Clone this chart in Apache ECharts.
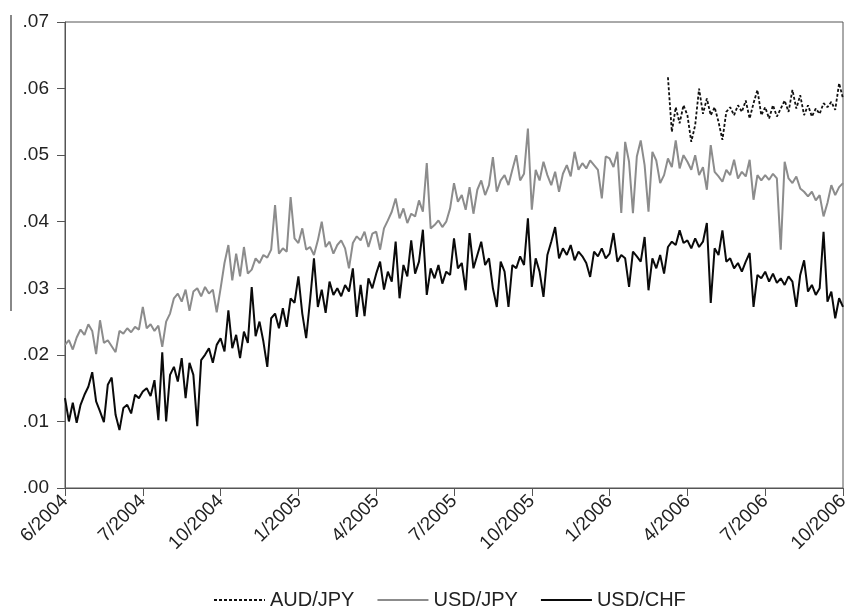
<!DOCTYPE html>
<html><head><meta charset="utf-8">
<script src="https://cdn.jsdelivr.net/npm/echarts@6/dist/echarts.min.js"></script>
<style>html,body{margin:0;padding:0;background:#fff}#c{width:846px;height:609px}</style>
</head><body><div id="c"></div>
<script>
// Tick labels, one per 20 observations
const tickLabels = ["6/2004","7/2004","10/2004","1/2005","4/2005","7/2005","10/2005","1/2006","4/2006","7/2006","10/2006"];
const obsPerTick = 20;

const usdjpy = [
0.0215,0.0222,0.0208,0.0226,0.0238,0.0230,0.0246,0.0236,0.0201,0.0252,0.0218,0.0222,0.0213,0.0204,0.0236,0.0232,0.0240,0.0234,0.0242,0.0238,
0.0272,0.0240,0.0246,0.0236,0.0244,0.0212,0.0250,0.0262,0.0285,0.0292,0.0280,0.0298,0.0266,0.0295,0.0300,0.0288,0.0302,0.0292,0.0298,0.0264,
0.0300,0.0338,0.0365,0.0312,0.0352,0.0318,0.0362,0.0322,0.0328,0.0345,0.0338,0.0350,0.0346,0.0358,0.0425,0.0352,0.0360,0.0355,0.0437,0.0375,
0.0368,0.0390,0.0358,0.0362,0.0350,0.0372,0.0400,0.0362,0.0370,0.0352,0.0365,0.0372,0.0360,0.0330,0.0368,0.0378,0.0372,0.0385,0.0362,0.0382,
0.0385,0.0358,0.0390,0.0402,0.0415,0.0435,0.0405,0.0420,0.0398,0.0412,0.0408,0.0432,0.0415,0.0488,0.0390,0.0395,0.0402,0.0392,0.0400,0.0420,
0.0458,0.0430,0.0440,0.0418,0.0452,0.0412,0.0448,0.0462,0.0440,0.0455,0.0497,0.0445,0.0462,0.0470,0.0455,0.0478,0.0500,0.0462,0.0472,0.0540,
0.0418,0.0478,0.0462,0.0490,0.0470,0.0455,0.0475,0.0445,0.0472,0.0485,0.0468,0.0505,0.0478,0.0488,0.0480,0.0492,0.0485,0.0478,0.0435,0.0498,
0.0495,0.0482,0.0505,0.0413,0.0520,0.0490,0.0413,0.0498,0.0522,0.0485,0.0415,0.0505,0.0492,0.0458,0.0470,0.0495,0.0482,0.0522,0.0480,0.0500,
0.0490,0.0478,0.0500,0.0470,0.0482,0.0448,0.0515,0.0475,0.0468,0.0460,0.0478,0.0470,0.0493,0.0465,0.0475,0.0468,0.0493,0.0433,0.0470,0.0462,
0.0470,0.0463,0.0472,0.0465,0.0358,0.0490,0.0465,0.0458,0.0468,0.0450,0.0445,0.0438,0.0445,0.0432,0.0440,0.0408,0.0428,0.0455,0.0440,0.0452,
0.0458];

const usdchf = [
0.0135,0.0100,0.0128,0.0098,0.0125,0.0140,0.0152,0.0174,0.0130,0.0115,0.0099,0.0155,0.0166,0.0110,0.0087,0.0120,0.0125,0.0112,0.0140,0.0135,
0.0145,0.0150,0.0138,0.0162,0.0102,0.0204,0.0100,0.0170,0.0182,0.0160,0.0195,0.0135,0.0188,0.0170,0.0093,0.0192,0.0200,0.0210,0.0188,0.0215,
0.0225,0.0205,0.0267,0.0210,0.0230,0.0195,0.0235,0.0218,0.0302,0.0228,0.0250,0.0220,0.0182,0.0255,0.0262,0.0240,0.0270,0.0242,0.0285,0.0278,
0.0318,0.0262,0.0225,0.0282,0.0345,0.0272,0.0298,0.0263,0.0310,0.0290,0.0300,0.0288,0.0305,0.0295,0.0330,0.0257,0.0305,0.0258,0.0315,0.0300,
0.0322,0.0340,0.0298,0.0325,0.0310,0.0370,0.0285,0.0335,0.0318,0.0372,0.0322,0.0340,0.0388,0.0290,0.0330,0.0315,0.0335,0.0307,0.0325,0.0320,
0.0375,0.0330,0.0338,0.0297,0.0383,0.0330,0.0350,0.0370,0.0335,0.0345,0.0300,0.0272,0.0340,0.0325,0.0272,0.0335,0.0330,0.0348,0.0335,0.0405,
0.0302,0.0345,0.0325,0.0287,0.0350,0.0370,0.0392,0.0345,0.0360,0.0350,0.0365,0.0342,0.0355,0.0348,0.0338,0.0317,0.0355,0.0348,0.0360,0.0345,
0.0352,0.0383,0.0340,0.0350,0.0345,0.0302,0.0355,0.0348,0.0340,0.0377,0.0297,0.0345,0.0330,0.0350,0.0322,0.0362,0.0370,0.0365,0.0387,0.0368,
0.0372,0.0360,0.0375,0.0362,0.0370,0.0398,0.0278,0.0360,0.0350,0.0387,0.0340,0.0345,0.0330,0.0338,0.0325,0.0340,0.0353,0.0272,0.0320,0.0315,
0.0325,0.0310,0.0322,0.0308,0.0315,0.0305,0.0318,0.0310,0.0272,0.0320,0.0342,0.0295,0.0305,0.0290,0.0300,0.0385,0.0280,0.0295,0.0255,0.0285,
0.0272];

// AUD/JPY only available from observation 155 onward
const audjpyStart = 155;
const audjpy = [
0.0617,0.0535,0.0572,0.0548,0.0575,0.0560,0.0520,0.0545,0.0600,0.0562,0.0585,0.0560,0.0572,0.0550,0.0523,0.0565,
0.0572,0.0560,0.0575,0.0565,0.0582,0.0555,0.0578,0.0598,0.0560,0.0572,0.0555,0.0575,0.0558,0.0570,0.0582,0.0565,
0.0598,0.0570,0.0590,0.0560,0.0575,0.0558,0.0570,0.0562,0.0578,0.0572,0.0580,0.0568,0.0608,0.0585];

const nObs = usdjpy.length;
const categories = Array.from({length: nObs}, (_, i) => i);
const audFull = new Array(audjpyStart).fill(null).concat(audjpy);

const chart = echarts.init(document.getElementById('c'), null, {renderer: 'canvas'});
const font = 'Liberation Sans, Arial, sans-serif';
chart.setOption({
  animation: false,
  backgroundColor: '#fff',
  grid: {left: 65, right: 3, top: 22, bottom: 121, containLabel: false, outerBoundsMode: 'none',
         show: true, borderColor: '#555', borderWidth: 1},
  xAxis: {
    type: 'category', data: categories, boundaryGap: false,
    axisLine: {lineStyle: {color: '#555', width: 1}},
    axisTick: {show: true, length: 8, inside: false, lineStyle: {color: '#555'},
               interval: (i) => i % obsPerTick === 0},
    axisLabel: {interval: (i) => i % obsPerTick === 0, rotate: 45, margin: 10,
                fontFamily: font, fontSize: 19, color: '#222',
                formatter: (v) => tickLabels[Math.round(v / obsPerTick)] || ''},
    splitLine: {show: false}
  },
  yAxis: {
    type: 'value', min: 0, max: 0.07, interval: 0.01,
    axisLine: {show: true, lineStyle: {color: '#555', width: 1}},
    axisTick: {show: true, length: 8, lineStyle: {color: '#555'}},
    axisLabel: {margin: 16, fontFamily: font, fontSize: 19, color: '#222',
                formatter: (v) => v.toFixed(2).replace(/^0/, '')},
    splitLine: {show: false}
  },
  legend: {
    top: 585, left: 208, itemWidth: 51, itemHeight: 10, itemGap: 22,
    itemStyle: {opacity: 0},
    lineStyle: {width: 2},
    textStyle: {fontFamily: font, fontSize: 20, color: '#222'},
    data: ['AUD/JPY', 'USD/JPY', 'USD/CHF']
  },
  graphic: [{type: 'line', shape: {x1: 11, y1: 15, x2: 11, y2: 311},
             style: {stroke: '#888', lineWidth: 2}}],
  series: [
    {name: 'AUD/JPY', type: 'line', data: audFull, showSymbol: false, symbol: 'none',
     connectNulls: false, z: 3,
     lineStyle: {color: '#111', width: 1.8, type: [3, 2]}, itemStyle: {color: '#111'}},
    {name: 'USD/JPY', type: 'line', data: usdjpy, showSymbol: false, symbol: 'none', z: 2,
     lineStyle: {color: '#8c8c8c', width: 2}, itemStyle: {color: '#8c8c8c'}},
    {name: 'USD/CHF', type: 'line', data: usdchf, showSymbol: false, symbol: 'none', z: 2,
     lineStyle: {color: '#0a0a0a', width: 2}, itemStyle: {color: '#0a0a0a'}}
  ]
});
</script></body></html>
